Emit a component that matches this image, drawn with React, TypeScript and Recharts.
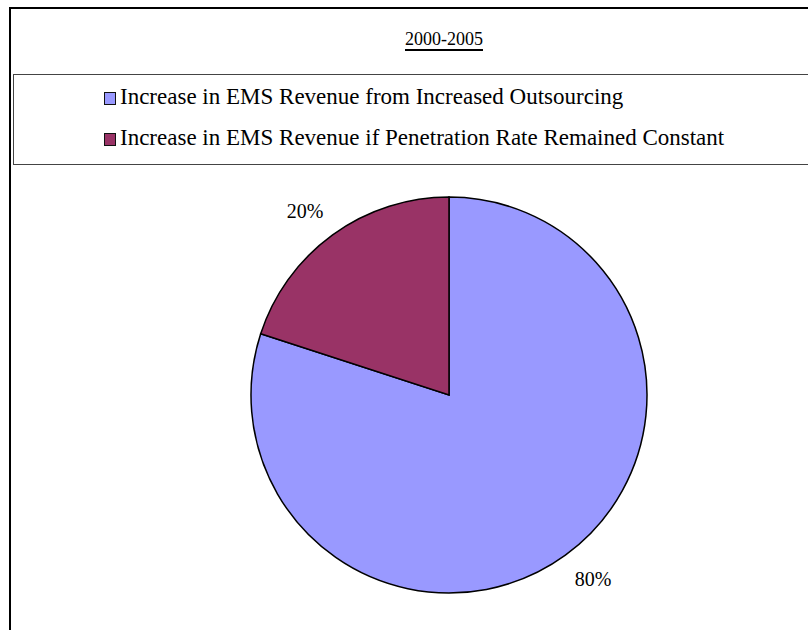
import React from 'react';
import { PieChart, Pie, Cell } from 'recharts';

const chartTitle = '2000-2005';
const categories = [
  'Increase in EMS Revenue from Increased Outsourcing',
  'Increase in EMS Revenue if Penetration Rate Remained Constant',
];
const shares = [80, 20];
const colors = ['#9999FF', '#993366'];

const data = categories.map((name, i) => ({ name, value: shares[i] }));

const FONT = '"Liberation Serif", "Times New Roman", serif';
const RADIAN = Math.PI / 180;

// labels sit outside the slice, a bit further out sideways than up/down
const renderLabel = (props: any) => {
  const { cx, cy, midAngle, outerRadius, percent } = props;
  const x = cx + (outerRadius + 47) * Math.cos(-midAngle * RADIAN);
  const y = cy + (outerRadius + 29) * Math.sin(-midAngle * RADIAN);
  return (
    <text
      x={x}
      y={y}
      textAnchor="middle"
      dominantBaseline="central"
      fill="#000"
      style={{ fontFamily: FONT, fontSize: 20 }}
    >
      {`${Math.round(percent * 100)}%`}
    </text>
  );
};

const App = () => {
  return (
    <div
      style={{
        position: 'absolute',
        left: 0,
        top: 0,
        width: 808,
        height: 630,
        overflow: 'hidden',
        background: '#fff',
        fontFamily: FONT,
      }}
    >
      {/* outer frame, runs off the right and bottom edges */}
      <div
        style={{
          position: 'absolute',
          left: 9,
          top: 7,
          width: 900,
          height: 700,
          borderLeft: '2px solid #000',
          borderTop: '2px solid #000',
        }}
      />

      <div
        style={{
          position: 'absolute',
          left: 0,
          top: 30,
          width: 888,
          textAlign: 'center',
          fontSize: 18,
          lineHeight: '18px',
          color: '#000',
          textDecoration: 'underline',
          textUnderlineOffset: '4px',
          textDecorationThickness: '1.5px',
        }}
      >
        {chartTitle}
      </div>

      {/* legend box */}
      <div
        style={{
          position: 'absolute',
          left: 13,
          top: 74,
          width: 900,
          height: 89,
          borderLeft: '1px solid #444',
          borderTop: '1px solid #444',
          borderBottom: '1px solid #444',
        }}
      />
      {categories.map((name, i) => (
        <div key={name}>
          <div
            style={{
              position: 'absolute',
              left: 104,
              top: 92 + i * 41,
              width: 10,
              height: 11,
              background: colors[i],
              border: '1.5px solid #111',
            }}
          />
          <div
            style={{
              position: 'absolute',
              left: 120,
              top: 85 + i * 41,
              fontSize: 23,
              lineHeight: '23px',
              whiteSpace: 'nowrap',
              color: '#000',
            }}
          >
            {name}
          </div>
        </div>
      ))}

      <div style={{ position: 'absolute', left: 0, top: 0 }}>
        <PieChart width={808} height={630}>
          <Pie
            data={data}
            dataKey="value"
            cx={444}
            cy={390}
            outerRadius={198}
            startAngle={90}
            endAngle={-270}
            stroke="#000"
            strokeWidth={1.5}
            label={renderLabel}
            labelLine={false}
            isAnimationActive={false}
          >
            {data.map((entry, index) => (
              <Cell key={`cell-${index}`} fill={colors[index]} />
            ))}
          </Pie>
        </PieChart>
      </div>
    </div>
  );
};

export default App;
